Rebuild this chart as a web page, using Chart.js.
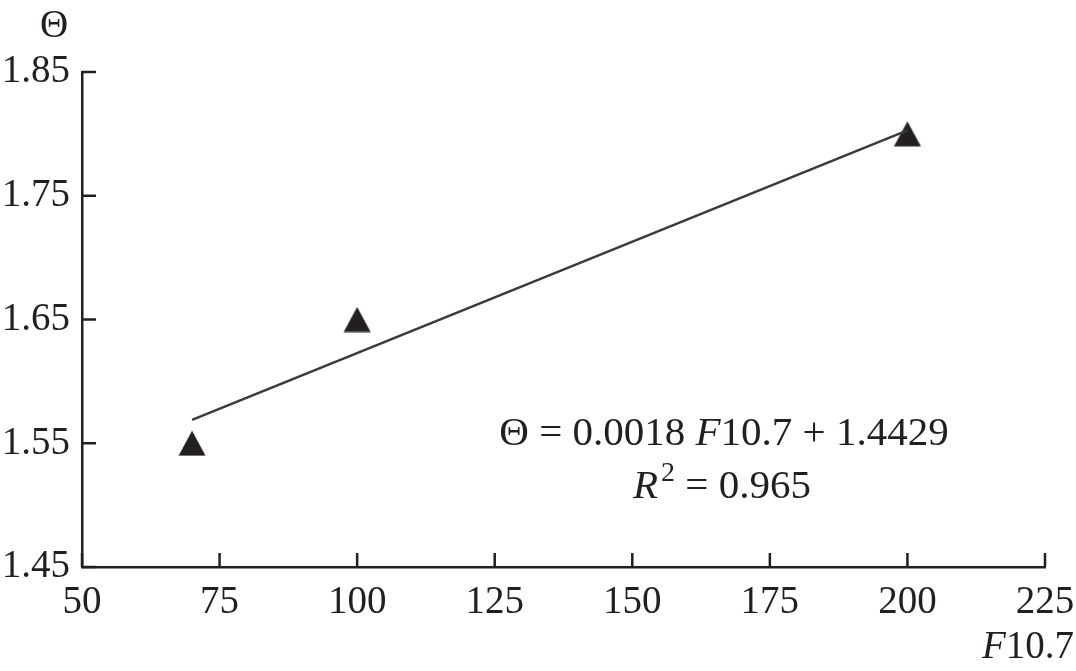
<!DOCTYPE html>
<html>
<head>
<meta charset="utf-8">
<script src="https://cdn.jsdelivr.net/npm/chart.js@4.4.1/dist/chart.umd.min.js"></script>
<style>
  html, body { margin: 0; padding: 0; background: #ffffff; }
  #wrap { width: 1076px; height: 671px; }
</style>
</head>
<body>
<div id="wrap"><canvas id="chart" width="1076" height="671"></canvas></div>
<script>
'use strict';

// ── Data ───────────────────────────────────────────────────────
const F107   = [70, 100, 200];
const THETA  = [1.55, 1.65, 1.80];
const FIT_SLOPE     = 0.0018;
const FIT_INTERCEPT = 1.4429;
const FIT_R2        = 0.965;
const FIT_RANGE     = [70, 200];
const X_TICKS = [50, 75, 100, 125, 150, 175, 200, 225];
const Y_TICKS = [1.45, 1.55, 1.65, 1.75, 1.85];

// ── Style ──────────────────────────────────────────────────────
const INK  = '#231f20';
const FONT = "'Liberation Serif', 'Times New Roman', serif";
const FS   = 39;
const EQ_FS = 41;
const TICK_LEN = 14;

Chart.defaults.animation = false;
Chart.defaults.font.family = FONT;
Chart.defaults.color = INK;

// filled triangle marker, centred on its own height
function triangleMarker(w, h) {
  const c = document.createElement('canvas');
  c.width = w; c.height = h;
  const g = c.getContext('2d');
  g.fillStyle = INK;
  g.beginPath();
  g.moveTo(w / 2, 0.5);
  g.lineTo(w - 0.5, h - 0.5);
  g.lineTo(0.5, h - 0.5);
  g.closePath();
  g.fill();
  return c;
}

// inward tick marks, drawn from the library's scales
const inwardTicks = {
  id: 'inwardTicks',
  afterDraw(chart) {
    const { ctx, scales: { x, y } } = chart;
    ctx.save();
    ctx.strokeStyle = INK;
    ctx.lineWidth = 2.5;
    ctx.beginPath();
    X_TICKS.forEach(v => {
      const px = x.getPixelForValue(v);
      ctx.moveTo(px, y.bottom);
      ctx.lineTo(px, y.bottom - TICK_LEN);
    });
    Y_TICKS.forEach(v => {
      const py = y.getPixelForValue(v);
      ctx.moveTo(x.left, py);
      ctx.lineTo(x.left + TICK_LEN, py);
    });
    ctx.stroke();
    ctx.restore();
  },
};

// mixed-style text runs, centred on cx
function drawRuns(ctx, runs, cx, baseline) {
  const widths = runs.map(r => {
    ctx.font = r.font;
    return ctx.measureText(r.text).width + (r.dx || 0);
  });
  let x = cx - widths.reduce((a, b) => a + b, 0) / 2;
  runs.forEach((r, i) => {
    ctx.font = r.font;
    ctx.fillText(r.text, x + (r.dx || 0), baseline + (r.dy || 0));
    x += widths[i];
  });
}

const labels = {
  id: 'labels',
  afterDraw(chart) {
    const { ctx } = chart;
    const up = `${EQ_FS}px ${FONT}`;
    const it = `italic ${EQ_FS}px ${FONT}`;
    ctx.save();
    ctx.fillStyle = INK;
    ctx.textBaseline = 'alphabetic';
    ctx.textAlign = 'left';

    // axis titles
    drawRuns(ctx, [{ text: 'Θ', font: `${FS}px ${FONT}` }], 54, 37);
    drawRuns(ctx, [
      { text: 'F', font: `italic ${FS}px ${FONT}` },
      { text: '10.7', font: `${FS}px ${FONT}` },
    ], 1028, 658);

    // regression equation
    drawRuns(ctx, [
      { text: 'Θ = 0.0018 ', font: up },
      { text: 'F', font: it },
      { text: `10.7 + ${FIT_INTERCEPT}`, font: up },
    ], 724, 445);
    drawRuns(ctx, [
      { text: 'R', font: it },
      { text: '2', font: `${Math.round(EQ_FS * 0.68)}px ${FONT}`, dy: -17, dx: 3 },
      { text: ` = ${FIT_R2}`, font: up },
    ], 722, 498);
    ctx.restore();
  },
};

const trend = FIT_RANGE.map(v => ({ x: v, y: FIT_SLOPE * v + FIT_INTERCEPT }));

new Chart(document.getElementById('chart').getContext('2d'), {
  type: 'scatter',
  data: {
    datasets: [
      {
        label: 'fit',
        type: 'line',
        data: trend,
        borderColor: '#3a3a3a',
        borderWidth: 2.5,
        pointRadius: 0,
        fill: false,
      },
      {
        label: 'Θ',
        data: F107.map((v, i) => ({ x: v, y: THETA[i] })),
        pointStyle: triangleMarker(28, 26),
        pointRadius: 14,
      },
    ],
  },
  options: {
    responsive: false,
    layout: { padding: { top: 72, right: 31, left: 0, bottom: 0 } },
    plugins: { legend: { display: false }, tooltip: { enabled: false } },
    scales: {
      x: {
        type: 'linear',
        min: 50, max: 225,
        afterBuildTicks: s => { s.ticks = X_TICKS.map(v => ({ value: v })); },
        afterFit: s => { s.height = 104; s.paddingLeft = 0; s.paddingRight = 0; },
        grid: { display: false, drawTicks: false },
        border: { display: true, color: INK, width: 2.5 },
        ticks: { font: { size: FS }, color: INK, padding: 12, maxRotation: 0, autoSkip: false },
      },
      y: {
        type: 'linear',
        min: 1.45, max: 1.85,
        afterBuildTicks: s => { s.ticks = Y_TICKS.map(v => ({ value: v })); },
        afterFit: s => { s.width = 82; s.paddingTop = 0; s.paddingBottom = 0; },
        grid: { display: false, drawTicks: false },
        border: { display: true, color: INK, width: 2.5 },
        ticks: {
          font: { size: FS }, color: INK, padding: 12,
          callback: v => v.toFixed(2),
        },
      },
    },
  },
  plugins: [inwardTicks, labels],
});
</script>
</body>
</html>
